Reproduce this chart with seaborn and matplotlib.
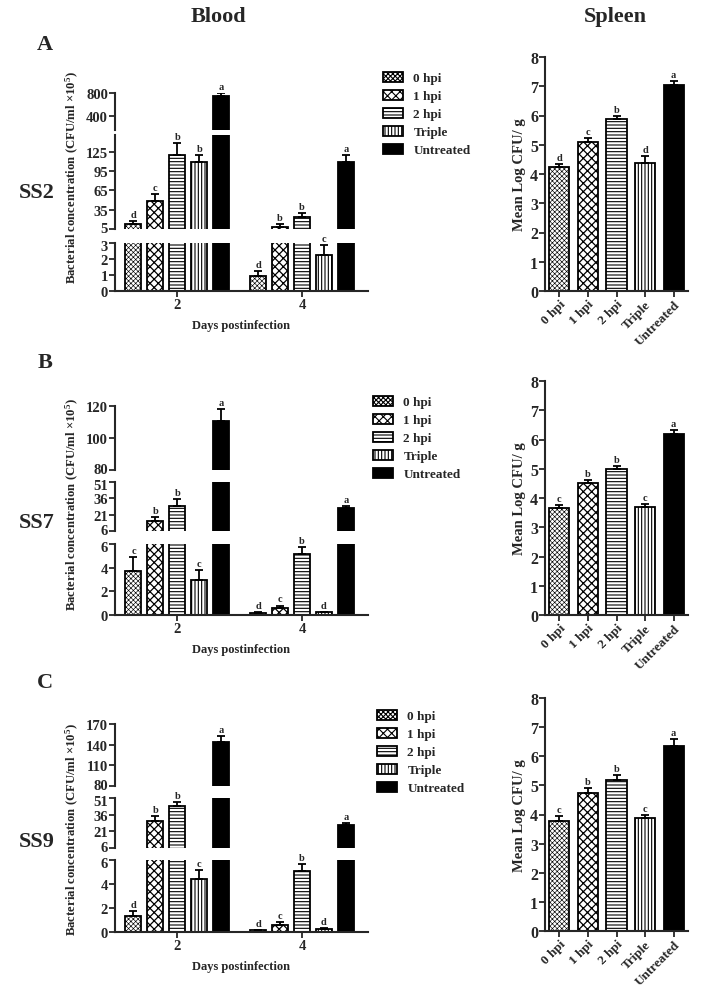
import numpy as np
import pandas as pd
import seaborn as sns
import matplotlib.pyplot as plt
import matplotlib.transforms as mtransforms

groups = ["0 hpi", "1 hpi", "2 hpi", "Triple", "Untreated"]
days = ["2", "4"]
hatches = ["xxxxxxx", "xxxx", "-----", "|||||", ""]
hatch_lw = [0.45, 0.9, 0.8, 0.8, 0.8]
colors = ["white", "white", "white", "white", "black"]

# Blood: bacterial concentration (CFU/ml x10^5), day 2 and day 4 post infection
ss2_day2 = [12.7, 49, 120, 109, 745]
ss2_day2_err = [4, 11, 18, 11, 55]
ss2_day4 = [0.92, 8, 23.5, 2.25, 109.5]
ss2_day4_err = [0.35, 4, 6.5, 0.63, 10.5]
ss2_day2_sig = ["d", "c", "b", "b", "a"]
ss2_day4_sig = ["d", "b", "b", "c", "a"]

ss7_day2 = [3.69, 14.9, 29.2, 2.98, 110.8]
ss7_day2_err = [1.24, 3.7, 6.2, 0.85, 7.2]
ss7_day4 = [0.2, 0.62, 5.15, 0.22, 27.1]
ss7_day4_err = [0.06, 0.18, 0.62, 0.06, 1.6]
ss7_day2_sig = ["c", "b", "b", "c", "a"]
ss7_day4_sig = ["d", "c", "b", "d", "a"]

ss9_day2 = [1.36, 30.3, 44, 4.39, 143.4]
ss9_day2_err = [0.42, 4.8, 3, 0.8, 8.6]
ss9_day4 = [0.15, 0.58, 5.1, 0.25, 26.7]
ss9_day4_err = [0.05, 0.28, 0.57, 0.05, 1.8]
ss9_day2_sig = ["d", "b", "b", "c", "a"]
ss9_day4_sig = ["d", "c", "b", "d", "a"]

# broken y axis: (low, high) of each segment, bottom to top
ss2_breaks = [(0, 3), (5, 151), (150, 800)]
ss2_ticks = [[0, 1, 2, 3], [5, 35, 65, 95, 125], [400, 800]]
ss7_breaks = [(0, 6), (6, 51), (80, 120)]
ss7_ticks = [[0, 2, 4, 6], [6, 21, 36, 51], [80, 100, 120]]
ss9_breaks = [(0, 6), (6, 51), (80, 170)]
ss9_ticks = [[0, 2, 4, 6], [6, 21, 36, 51], [80, 110, 140, 170]]

# Spleen: mean log CFU/g
ss2_spleen = [4.25, 5.1, 5.87, 4.38, 7.05]
ss2_spleen_err = [0.1, 0.12, 0.1, 0.22, 0.13]
ss2_spleen_sig = ["d", "c", "b", "d", "a"]
ss7_spleen = [3.65, 4.5, 4.98, 3.7, 6.2]
ss7_spleen_err = [0.1, 0.12, 0.12, 0.1, 0.13]
ss7_spleen_sig = ["c", "b", "b", "c", "a"]
ss9_spleen = [3.78, 4.75, 5.2, 3.88, 6.35]
ss9_spleen_err = [0.17, 0.15, 0.17, 0.1, 0.25]
ss9_spleen_sig = ["c", "b", "b", "c", "a"]

sns.set_style("ticks")
plt.rcParams["font.family"] = ["Liberation Serif", "DejaVu Serif"]
plt.rcParams["font.weight"] = "bold"
plt.rcParams["axes.labelweight"] = "bold"
plt.rcParams["mathtext.fontset"] = "custom"
plt.rcParams["mathtext.rm"] = "Liberation Serif:bold"
plt.rcParams["mathtext.bf"] = "Liberation Serif:bold"
plt.rcParams["mathtext.it"] = "Liberation Serif:bold"
plt.rcParams["hatch.linewidth"] = 0.8

W, H = 703, 1004
fig = plt.figure(figsize=(W / 100, H / 100), dpi=100)
palette = dict(zip(groups, colors))


def px_axes(x0, x1, y0, y1):
    return fig.add_axes([x0 / W, 1 - y1 / H, (x1 - x0) / W, (y1 - y0) / H])


def style_bars(conts):
    for h, cont in enumerate(conts):
        for bar in cont:
            bar.set_hatch(hatches[h])
            if hasattr(bar, "set_hatch_linewidth"):
                bar.set_hatch_linewidth(hatch_lw[h])


def style_axis(ax, size=11.5):
    sns.despine(ax=ax)
    for s in ["left", "bottom"]:
        ax.spines[s].set_linewidth(1.5)
    ax.tick_params(width=1.3, length=4, labelsize=size, pad=1)
    ax.set_xlabel("")
    ax.set_ylabel("")


def blood_panel(seg_px, d2, e2, d4, e4, s2, s4, breaks, ticks):
    df = pd.DataFrame({"day": ["2"] * 5 + ["4"] * 5,
                       "group": groups * 2,
                       "value": d2 + d4})
    means = [d2, d4]
    errs = [e2, e4]
    sigs = [s2, s4]
    axes = []
    for i, (y0, y1) in enumerate(seg_px):
        ax = px_axes(115, 368, y0, y1)
        sns.barplot(data=df, x="day", y="value", hue="group", order=days,
                    hue_order=groups, palette=palette, saturation=1,
                    width=0.88, gap=0.27, edgecolor="black", linewidth=1.3,
                    errorbar=None, legend=False, ax=ax)
        conts = list(ax.containers)
        style_bars(conts)
        style_axis(ax, 10.5)
        lo, hi = breaks[i]
        last = i == len(breaks) - 1
        for h, cont in enumerate(conts):
            for d, bar in enumerate(cont):
                x = bar.get_x() + bar.get_width() / 2
                m, e = means[d][h], errs[d][h]
                top = m + e
                # error bar only where its end falls inside this segment
                if top < lo or m > hi:
                    continue
                ax.errorbar([x], [m], yerr=[[0], [e]], fmt="none", ecolor="black",
                            elinewidth=1.3, capsize=3, capthick=1.3, zorder=3)
                if top <= hi or last:
                    ax.annotate(sigs[d][h], (x, top), xytext=(0, 1.5),
                                textcoords="offset points", ha="center", va="bottom",
                                fontsize=7.5, fontweight="bold", annotation_clip=False)
        ax.set_ylim(lo, hi)
        ax.set_yticks(ticks[i])
        ax.set_xlim(-0.5, 1.53)
        # keep labels at the breaks from running into each other
        for t, val in zip(ax.yaxis.get_major_ticks(), ticks[i]):
            dy = 0
            if i > 0 and val == lo:
                dy = 1.5
            if not last and val == hi:
                dy = -1.5
            if dy:
                t.label1.set_transform(t.label1.get_transform() +
                                       mtransforms.ScaledTranslation(0, dy / 72, fig.dpi_scale_trans))
        if i > 0:
            ax.spines["bottom"].set_visible(False)
            ax.tick_params(axis="x", bottom=False, labelbottom=False)
        else:
            ax.set_xlabel("Days postinfection", fontsize=9, labelpad=6)
        axes.append((ax, conts))
    return axes


def spleen_panel(y0, y1, vals, errs, sigs):
    df = pd.DataFrame({"group": groups, "value": vals})
    ax = px_axes(545, 688, y0, y1)
    sns.barplot(data=df, x="group", y="value", hue="group", order=groups,
                hue_order=groups, palette=palette, saturation=1, width=0.7,
                edgecolor="black", linewidth=1.3, errorbar=None, legend=False, ax=ax)
    conts = list(ax.containers)
    style_bars(conts)
    style_axis(ax)
    bars = [b for c in conts for b in c]
    for h, bar in enumerate(bars):
        x = bar.get_x() + bar.get_width() / 2
        ax.errorbar([x], [vals[h]], yerr=[[0], [errs[h]]], fmt="none", ecolor="black",
                    elinewidth=1.3, capsize=3, capthick=1.3, zorder=3)
        ax.annotate(sigs[h], (x, vals[h] + errs[h]), xytext=(0, 1.5),
                    textcoords="offset points", ha="center", va="bottom",
                    fontsize=7.5, fontweight="bold")
    ax.set_ylim(0, 8)
    ax.set_yticks(range(9))
    ax.set_xlim(-0.5, 4.5)
    ax.set_xticks(range(5))
    ax.set_xticklabels(groups, rotation=45, ha="right", rotation_mode="anchor", fontsize=9.5)
    ax.set_ylabel("Mean Log CFU/ g", fontsize=10.5, labelpad=3)
    return ax


rows = [
    dict(seg=[(244, 292), (136, 230), (94, 131)], spleen=(58, 292),
         blood=(ss2_day2, ss2_day2_err, ss2_day4, ss2_day4_err, ss2_day2_sig, ss2_day4_sig,
                ss2_breaks, ss2_ticks),
         sp=(ss2_spleen, ss2_spleen_err, ss2_spleen_sig),
         letter="A", strain="SS2", ly=45, sy=193, ylab=178, leg=(383, 73)),
    dict(seg=[(545, 616), (483, 532), (407, 471)], spleen=(382, 616),
         blood=(ss7_day2, ss7_day2_err, ss7_day4, ss7_day4_err, ss7_day2_sig, ss7_day4_sig,
                ss7_breaks, ss7_ticks),
         sp=(ss7_spleen, ss7_spleen_err, ss7_spleen_sig),
         letter="B", strain="SS7", ly=363, sy=523, ylab=505, leg=(373, 397)),
    dict(seg=[(861, 933), (799, 849), (725, 787)], spleen=(699, 932),
         blood=(ss9_day2, ss9_day2_err, ss9_day4, ss9_day4_err, ss9_day2_sig, ss9_day4_sig,
                ss9_breaks, ss9_ticks),
         sp=(ss9_spleen, ss9_spleen_err, ss9_spleen_sig),
         letter="C", strain="SS9", ly=683, sy=842, ylab=830, leg=(377, 711)),
]

for r in rows:
    axes = blood_panel(r["seg"], *r["blood"])
    spleen_panel(*r["spleen"], *r["sp"])
    fig.text(45 / W, 1 - r["ly"] / H, r["letter"], fontsize=16, fontweight="bold",
             ha="center", va="center")
    fig.text(37 / W, 1 - r["sy"] / H, r["strain"], fontsize=16, fontweight="bold",
             ha="center", va="center")
    fig.text(72 / W, 1 - r["ylab"] / H,
             "Bacterial concentration (CFU/ml \u00d710$^{\\mathbf{5}}$)",
             rotation=90, fontsize=9.2, fontweight="bold", ha="center", va="center")
    handles = [c[0] for c in axes[0][1]]
    fig.legend(handles, groups, loc="upper left",
               bbox_to_anchor=(r["leg"][0] / W, 1 - r["leg"][1] / H),
               frameon=False, fontsize=9.5, handlelength=1.5, handleheight=0.75,
               labelspacing=0.42, handletextpad=0.8, borderpad=0, borderaxespad=0)

fig.text(218 / W, 1 - 17 / H, "Blood", fontsize=16, fontweight="bold", ha="center", va="center")
fig.text(615 / W, 1 - 17 / H, "Spleen", fontsize=16, fontweight="bold", ha="center", va="center")

fig.savefig("out.png", dpi=100)
